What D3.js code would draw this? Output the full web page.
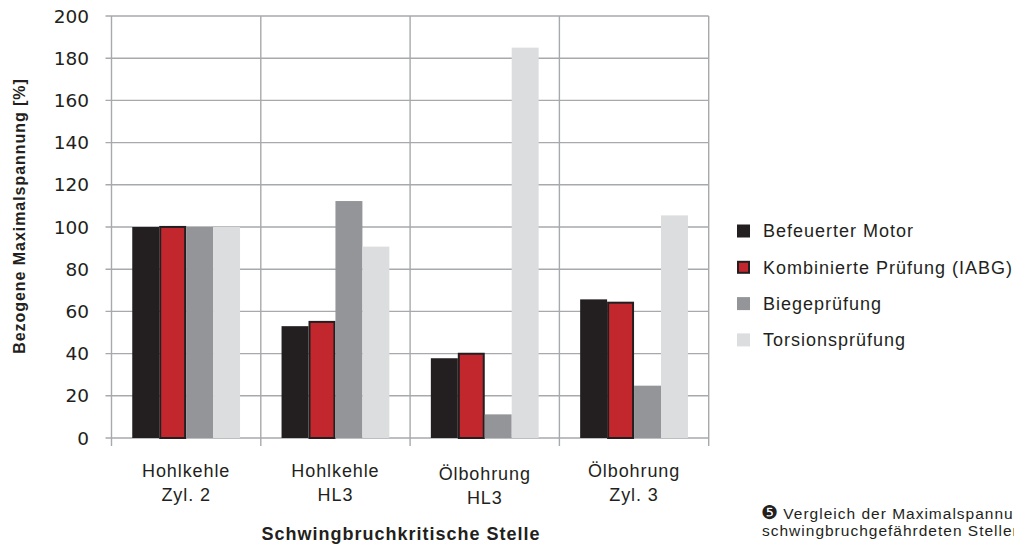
<!DOCTYPE html>
<html><head><meta charset="utf-8">
<script src="https://cdn.jsdelivr.net/npm/d3@7"></script>
<style>
html,body{margin:0;padding:0;background:#fff;overflow:hidden}
svg{display:block}
text{font-family:"Liberation Sans",Arial,sans-serif;fill:#231f20}
</style></head><body>
<svg id="c" width="1014" height="548"></svg>
<script>
const categories = [["Hohlkehle","Zyl. 2"],["Hohlkehle","HL3"],["Ölbohrung","HL3"],["Ölbohrung","Zyl. 3"]];
const seriesNames = ["Befeuerter Motor","Kombinierte Prüfung (IABG)","Biegeprüfung","Torsionsprüfung"];
const befeuerterMotor = [100, 53, 37.8, 65.7];
const kombiniertePruefung = [100.5, 55.5, 40.4, 64.6];
const biegepruefung = [100, 112.3, 11.2, 24.8];
const torsionspruefung = [100, 90.7, 185, 105.5];
const yTicks = [0,20,40,60,80,100,120,140,160,180,200];
const seriesValues = [befeuerterMotor, kombiniertePruefung, biegepruefung, torsionspruefung];
const colors = ["#231f20","#c1272d","#939598","#dcdddf"];

(function(){
const svg = d3.select("#c");
const L = 111.5, R = 708.7, T = 16, B = 438;
const x0 = d3.scaleBand().domain(d3.range(categories.length)).range([L,R]).paddingInner(0).paddingOuter(0);
const x1 = d3.scaleBand().domain(d3.range(seriesNames.length)).range([0,x0.bandwidth()]).paddingOuter(0.77).paddingInner(0);
const y = d3.scaleLinear().domain([0,200]).range([B,T]);

svg.append("g").selectAll("line").data(yTicks).join("line")
  .attr("x1",L-6).attr("x2",R).attr("y1",d=>y(d)).attr("y2",d=>y(d))
  .attr("stroke","#a7a9ac").attr("stroke-width",1.4);
const vx = d3.range(categories.length+1).map(i=>L + i*x0.bandwidth());
svg.append("g").selectAll("line").data(vx).join("line")
  .attr("x1",d=>d).attr("x2",d=>d).attr("y1",T).attr("y2",B+8)
  .attr("stroke","#a7a9ac").attr("stroke-width",1.4);

const g = svg.append("g");
categories.forEach((c,ci)=>{
  seriesValues.forEach((vals,si)=>{
    const xb = x0(ci)+x1(si);
    const w = x1.bandwidth();
    if(si===1){
      g.append("rect").attr("x",xb+1).attr("y",y(vals[ci])+1).attr("width",w-2).attr("height",B-y(vals[ci])-1)
        .attr("fill",colors[si]).attr("stroke","#231f20").attr("stroke-width",2);
    } else {
      g.append("rect").attr("x",xb).attr("y",y(vals[ci])).attr("width",w).attr("height",B-y(vals[ci]))
        .attr("fill",colors[si]);
    }
  });
});

svg.append("g").selectAll("text").data(yTicks).join("text")
  .attr("x",89).attr("y",d=>y(d)).attr("dy","0.36em").attr("text-anchor","end")
  .style("font-family","'DejaVu Sans',sans-serif").style("font-size","18.5px").text(d=>d);

svg.append("text").attr("transform","translate(25,216) rotate(-90)").attr("text-anchor","middle")
  .style("font-size","16px").style("font-weight","bold").style("letter-spacing","0.95px").text("Bezogene Maximalspannung [%]");

categories.forEach((c,ci)=>{
  const cx = x0(ci)+x0.bandwidth()/2;
  const off = ci===2 ? 3 : 0;
  c.forEach((line,li)=>{
    svg.append("text").attr("x",cx).attr("y",477+li*24+off).attr("text-anchor","middle")
      .style("font-size","18px").style("letter-spacing","0.9px").text(line);
  });
});
svg.append("text").attr("x",401).attr("y",540).attr("text-anchor","middle")
  .style("font-size","18px").style("font-weight","bold").style("letter-spacing","1px").text("Schwingbruchkritische Stelle");

const lg = svg.append("g");
seriesNames.forEach((n,i)=>{
  const ly = 231 + i*36.3;
  if(i===1){
    lg.append("rect").attr("x",738).attr("y",ly-5.5).attr("width",11).attr("height",11)
      .attr("fill",colors[i]).attr("stroke","#231f20").attr("stroke-width",2);
  } else {
    lg.append("rect").attr("x",737).attr("y",ly-6.5).attr("width",13).attr("height",13).attr("fill",colors[i]);
  }
  lg.append("text").attr("x",763).attr("y",ly).attr("dy","0.36em").style("font-size","18px")
    .style("letter-spacing","1px").text(n);
});

svg.append("text").attr("x",761).attr("y",519).style("font-size","15.5px").style("letter-spacing","1px")
  .html('<tspan style="font-family:DejaVu Sans;font-size:19px;letter-spacing:0">❺</tspan> Vergleich der Maximalspannungen an den');
svg.append("text").attr("x",762).attr("y",536).style("font-size","15.5px").style("letter-spacing","1px").text("schwingbruchgefährdeten Stellen");
})();
</script>
</body></html>
